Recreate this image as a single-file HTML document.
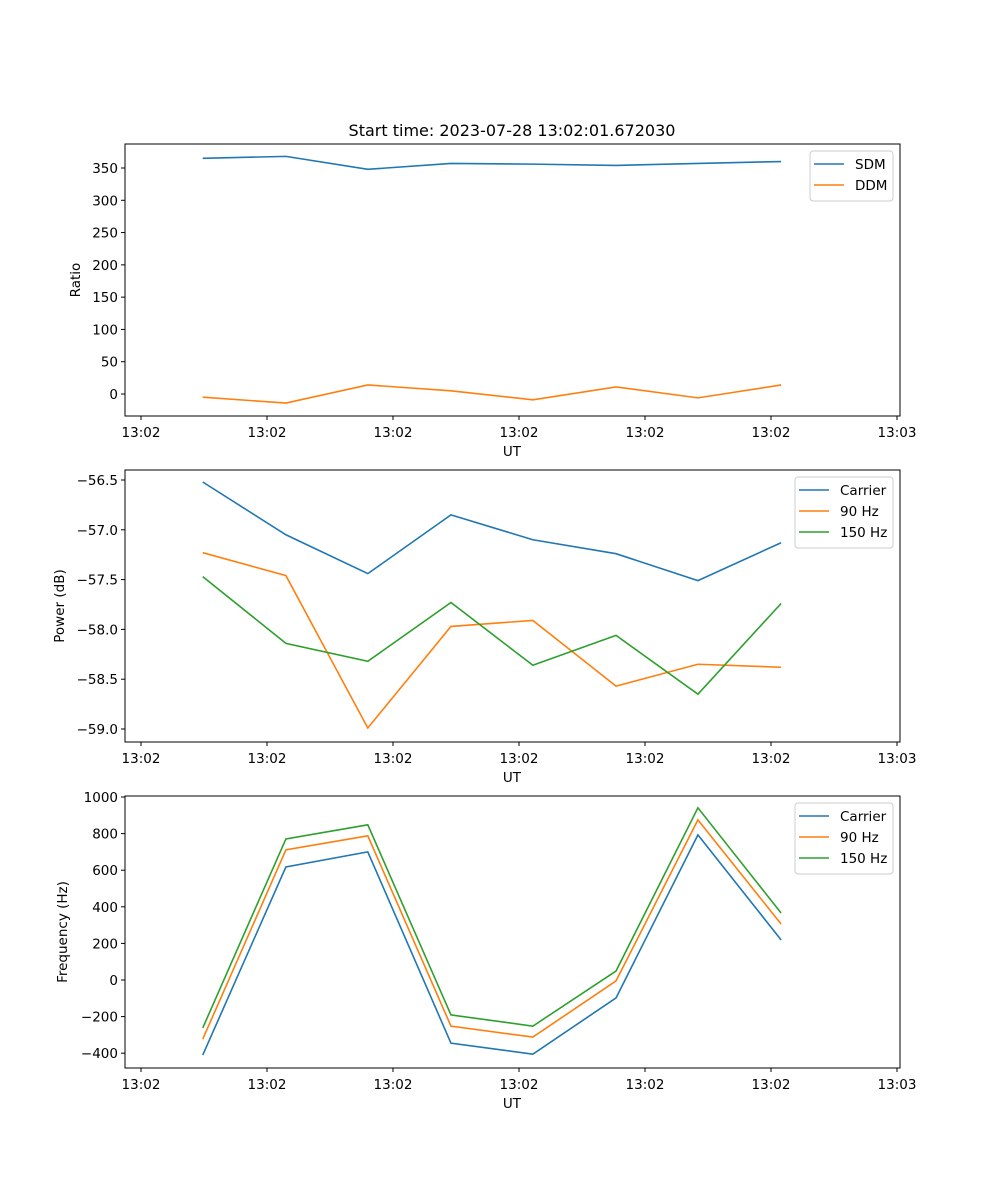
<!DOCTYPE html>
<html><head><meta charset="utf-8"><style>body{margin:0;background:#fff}svg{display:block;font-family:"DejaVu Sans","Liberation Sans",sans-serif}</style></head>
<body>
<svg id="fig" width="1000" height="1200" viewBox="0 0 1000 1200">
<rect width="1000" height="1200" fill="#fff"/>
<text x="512" y="136" font-size="16" text-anchor="middle">Start time: 2023-07-28 13:02:01.672030</text>
</svg>
<script>
const times = [0.49,1.15,1.80,2.46,3.11,3.77,4.42,5.08];
const xTickVals = [0,1,2,3,4,5,6];
const xTickLabels = ["13:02","13:02","13:02","13:02","13:02","13:02","13:03"];
const sdm = [365,368,348,357,356,354,357,360];
const ddm = [-5,-14,14,5,-9,11,-6,14];
const ratioTicks = [0,50,100,150,200,250,300,350];
const powCarrier = [-56.52,-57.05,-57.44,-56.85,-57.10,-57.24,-57.51,-57.13];
const pow90 = [-57.23,-57.46,-58.99,-57.97,-57.91,-58.57,-58.35,-58.38];
const pow150 = [-57.47,-58.14,-58.32,-57.73,-58.36,-58.06,-58.65,-57.74];
const powTicks = [-59.0,-58.5,-58.0,-57.5,-57.0,-56.5];
const freqCarrier = [-410,618,700,-345,-405,-98,793,219];
const freq90 = [-323,711,788,-252,-312,-5,875,306];
const freq150 = [-262,771,848,-191,-252,49,941,366];
const freqTicks = [-400,-200,0,200,400,600,800,1000];

const NS="http://www.w3.org/2000/svg";
const svg=document.getElementById('fig');
function mk(tag,attrs,parent){const e=document.createElementNS(NS,tag);for(const k in attrs)e.setAttribute(k,attrs[k]);(parent||svg).appendChild(e);return e;}
const L=125,R=900;
const xs=t=>141+t*126;
function fmt(v,dec){let s=v.toFixed(dec);return s.replace('-','\u2212');}
function panel(name,top,bottom,y0v,y0p,y1v,y1p,ticks,dec,ylabel,ylx,series,legendW){
  const g=mk('g',{});
  
  
  const ys=v=>y0p+(v-y0v)*(y1p-y0p)/(y1v-y0v);
  ticks.forEach(v=>{const y=ys(v);
    const t=mk('line',{x1:L-4,x2:L,y1:y,y2:y,stroke:'#000','stroke-width':1},g);
    
    const tx=mk('text',{x:L-7,y:y+5,'font-size':13.5,'text-anchor':'end'},g);tx.textContent=fmt(v,dec);
    });
  xTickVals.forEach((v,i)=>{const x=xs(v);
    const t=mk('line',{x1:x,x2:x,y1:bottom,y2:bottom+4,stroke:'#000'},g);
    
    const tx=mk('text',{x:x,y:bottom+21,'font-size':13.5,'text-anchor':'middle'},g);tx.textContent=xTickLabels[i];
    });
  series.forEach(s=>{
    const p=mk('polyline',{points:s.d.map((v,i)=>xs(times[i])+','+ys(v)).join(' '),fill:'none',stroke:s.c,'stroke-width':1.6},g);
    });
  const f=mk('rect',{x:L,y:top,width:R-L,height:bottom-top,fill:'none',stroke:'#000','stroke-width':1},g);
  
  const xl=mk('text',{x:512,y:bottom+40,'font-size':13.5,'text-anchor':'middle'},g);xl.textContent='UT';
  
  const yl=mk('text',{x:ylx,y:(top+bottom)/2,'font-size':13.5,'text-anchor':'middle',transform:`rotate(-90 ${ylx} ${(top+bottom)/2})`},g);yl.textContent=ylabel;
  
  const lx=893-legendW, ly=top+7;
  const lg=mk('g',{},g);
  
  mk('rect',{x:lx,y:ly,width:legendW,height:8+series.length*21,rx:3,fill:'#fff','fill-opacity':0.8,stroke:'#ccc'},lg);
  series.forEach((s,i)=>{const y=ly+13+i*21;
    const e=mk('g',{},lg);
    mk('line',{x1:lx+4,x2:lx+34,y1:y,y2:y,stroke:s.c,'stroke-width':1.6},e);
    const t=mk('text',{x:lx+45,y:y+5,'font-size':13.5},e);t.textContent=s.label;});
}
const B='#1f77b4',O='#ff7f0e',G='#2ca02c';
panel('ratio',144,416,0,394,350,168,ratioTicks,0,'Ratio',80,[{id:'sdm',d:sdm,c:B,label:'SDM'},{id:'ddm',d:ddm,c:O,label:'DDM'}],83);
panel('power',470,742,-56.5,480,-59.0,729,powTicks,1,'Power (dB)',64,[{id:'carrier',d:powCarrier,c:B,label:'Carrier'},{id:'90hz',d:pow90,c:O,label:'90 Hz'},{id:'150hz',d:pow150,c:G,label:'150 Hz'}],98);
panel('frequency',796,1068,0,980,1000,797,freqTicks,0,'Frequency (Hz)',67,[{id:'carrier',d:freqCarrier,c:B,label:'Carrier'},{id:'90hz',d:freq90,c:O,label:'90 Hz'},{id:'150hz',d:freq150,c:G,label:'150 Hz'}],98);
</script>
</body></html>
